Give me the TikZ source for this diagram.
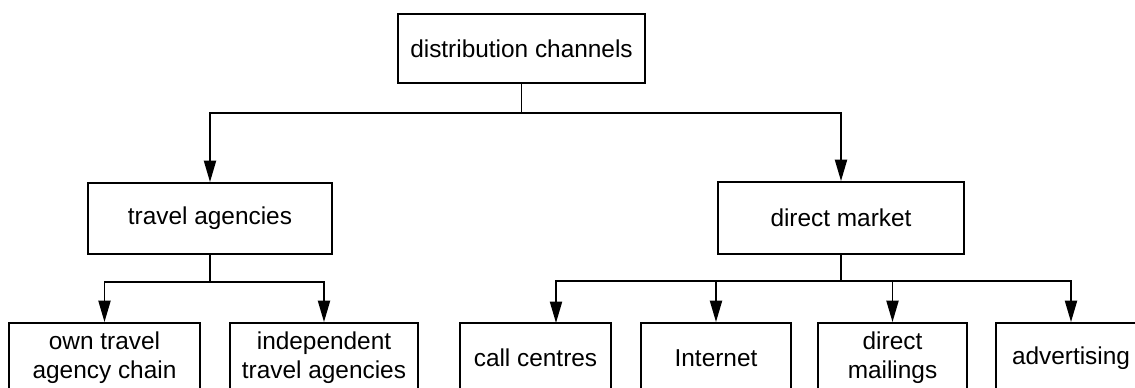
\documentclass[tikz,border=0pt]{standalone}
\usepackage{fontspec}
\setmainfont{Liberation Sans}
\usetikzlibrary{arrows.meta,calc}
\begin{document}
\begin{tikzpicture}[x=0.75pt,y=-0.75pt,
  box/.style={draw,line width=1.4pt,align=center,inner sep=0pt,
    font=\fontsize{18.3}{21.5}\selectfont},
  conn/.style={line width=1.4pt},
  arr/.style={conn,-{Triangle[length=16pt,width=9pt]}}]
\useasboundingbox (0,0) rectangle (1135,388);
\clip (0,0) rectangle (1135,388);
\node[box,minimum width=185.25pt,minimum height=51.75pt] (top) at (521.5,48.5) {distribution channels};
\node[box,minimum width=183pt,minimum height=53.25pt] (ta) at (210,218.5) {travel agencies};
\node[box,minimum width=184.5pt,minimum height=54pt] (dm) at (841,218) {direct market};
\node[box,minimum width=143.25pt,minimum height=52.5pt] (own) at (104.5,358) {own travel\\agency chain};
\node[box,minimum width=141pt,minimum height=52.5pt] (ind) at (324,358) {independent\\travel agencies};
\node[box,minimum width=113.25pt,minimum height=52.5pt] (cc) at (535.5,358) {call centres};
\node[box,minimum width=112.5pt,minimum height=52.5pt] (int) at (716,358) {Internet};
\node[box,minimum width=111.75pt,minimum height=52.5pt] (mail) at (892.5,358) {direct\\mailings};
\node[box,minimum width=112.5pt,minimum height=52.5pt] (adv) at (1071,358) {advertising};
\coordinate (j1) at (521.5,113);
\coordinate (j2) at (210,282);
\coordinate (j3) at (841,281);
\coordinate (ccin) at (556,323);
\draw[conn] (top.south) -- (j1);
\draw[arr] (j1) -| (ta.north);
\draw[arr] (j1) -| (dm.north);
\draw[conn] (ta.south) -- (j2);
\draw[arr] (j2) -| (own.north);
\draw[arr] (j2) -| (ind.north);
\draw[conn] (dm.south) -- (j3);
\draw[arr] (j3) -| (ccin);
\draw[arr] (j3) -| (int.north);
\draw[arr] (j3) -| (mail.north);
\draw[arr] (j3) -| (adv.north);
\end{tikzpicture}
\end{document}
